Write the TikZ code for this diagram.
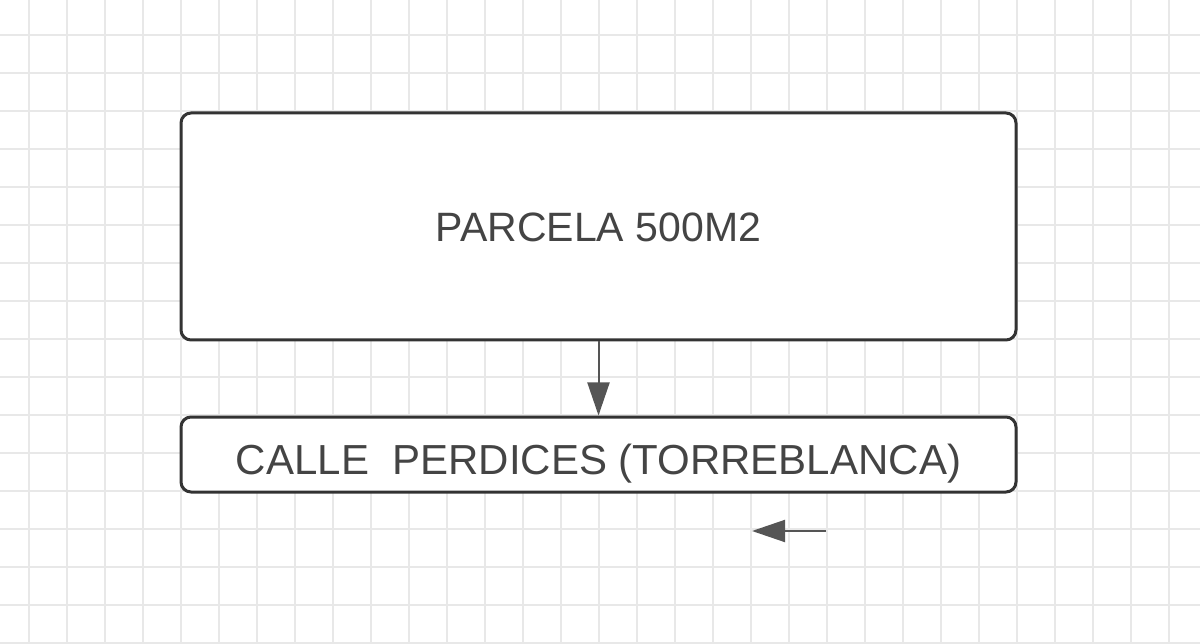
\documentclass[tikz,border=0pt]{standalone}
\usepackage{xcolor}
\usepackage{tikz}
\usepackage{fontspec}
\setmainfont{Liberation Sans}
\usetikzlibrary{arrows.meta,positioning}
\definecolor{outline}{HTML}{333333}
\definecolor{labeltext}{HTML}{444444}
\definecolor{linkgray}{HTML}{555555}
\definecolor{gridgray}{HTML}{E8E8E8}

\begin{document}
\begin{tikzpicture}[
    x=1pt, y=-1pt,
    gridline/.style={gridgray, line width=1.5pt},
    plotbox/.style={rectangle, draw=outline, fill=white, line width=3pt, rounded corners=10pt, minimum width=835pt, text=labeltext, text depth=0pt, align=center},
    link/.style={-{Triangle[length=33pt,width=22pt]}, line width=2pt, linkgray}
]
    \useasboundingbox (0,0) rectangle (1200,644);
    \fill[white] (0,0) rectangle (1200,644);

    % Grid
    \foreach \x in {29,67,...,1169} \draw[gridline] (\x,0) -- (\x,644);
    \foreach \y in {35,73,...,643} \draw[gridline] (0,\y) -- (1200,\y);

    % Boxes
    \node[plotbox, minimum height=227pt, font=\fontsize{41}{49}\selectfont, text height=29.4pt] (parcela) at (598.5,226.5) {PARCELA 500M2};
    \node[plotbox, minimum height=75pt, font=\fontsize{42}{50}\selectfont, text height=39pt] (calle) at (598.5,454.5) {CALLE\ \ PERDICES (TORREBLANCA)};

    % Arrows
    \coordinate (dirstart) at (826,531);
    \coordinate (dirend) at (752,531);
    \draw[link] (parcela.south) -- (calle.north);
    \draw[link] (dirstart) -- (dirend);
\end{tikzpicture}
\end{document}
